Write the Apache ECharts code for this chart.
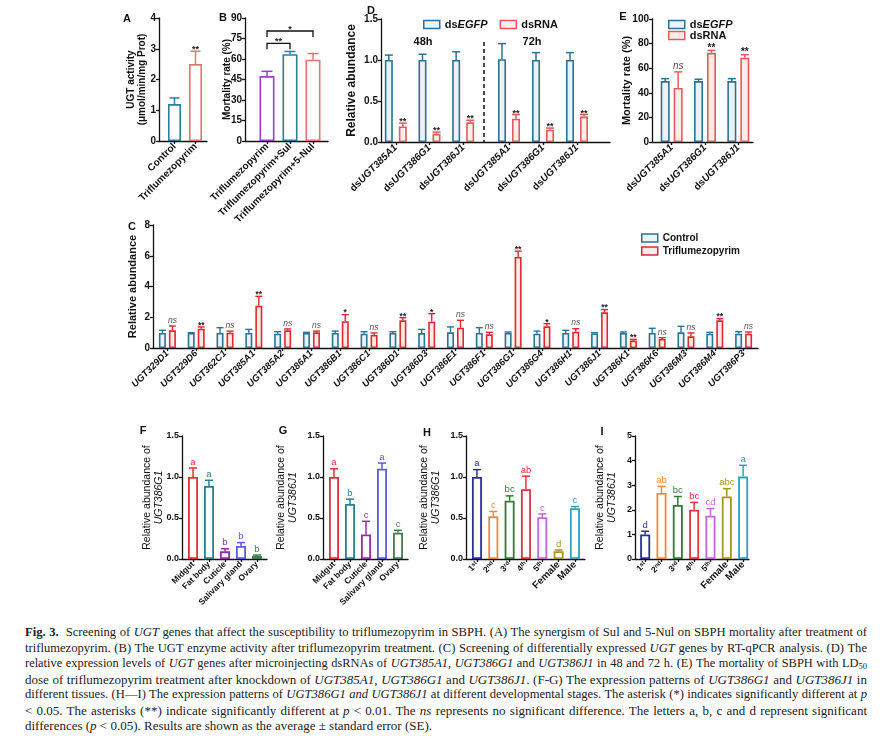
<!DOCTYPE html>
<html><head><meta charset="utf-8">
<script src="https://cdn.jsdelivr.net/npm/echarts@6/dist/echarts.min.js"></script>
<style>
html,body{margin:0;padding:0;background:#fff;}
#chart{position:absolute;left:0;top:0;width:881px;height:620px;}
#cap{position:absolute;left:25px;top:625px;width:842px;font-family:"Liberation Serif","Times New Roman",serif;font-size:13px;line-height:15.5px;color:#222;}
#cap div{text-align:justify;text-align-last:justify;white-space:nowrap;overflow:hidden;}
#cap div.last{text-align-last:left;}
#cap sub{font-size:8.5px;vertical-align:-2px;line-height:0;}
</style></head><body>
<div id="chart"></div>
<div id="cap">
<div><b>Fig. 3.</b>&nbsp; Screening of <i>UGT</i> genes that affect the susceptibility to triflumezopyrim in SBPH. (A) The synergism of Sul and 5-Nul on SBPH mortality after treatment of</div>
<div>triflumezopyrim. (B) The UGT enzyme activity after triflumezopyrim treatment. (C) Screening of differentially expressed <i>UGT</i> genes by RT-qPCR analysis. (D) The</div>
<div>relative expression levels of <i>UGT</i> genes after microinjecting dsRNAs of <i>UGT385A1</i>, <i>UGT386G1</i> and <i>UGT386J1</i> in 48 and 72 h. (E) The mortality of SBPH with LD<sub>50</sub></div>
<div>dose of triflumezopyrim treatment after knockdown of <i>UGT385A1</i>, <i>UGT386G1</i> and <i>UGT386J1</i>. (F-G) The expression patterns of <i>UGT386G1</i> and <i>UGT386J1</i> in</div>
<div>different tissues. (H—I) The expression patterns of <i>UGT386G1 and UGT386J1</i> at different developmental stages. The asterisk (*) indicates significantly different at <i>p</i></div>
<div>&lt; 0.05. The asterisks (**) indicate significantly different at <i>p</i> &lt; 0.01. The <i>ns</i> represents no significant difference. The letters a, b, c and d represent significant</div>
<div class="last">differences (<i>p</i> &lt; 0.05). Results are shown as the average ± standard error (SE).</div>
</div>
<script>
// ---------------- DATA ----------------
// Panel A
const aCats = ['Control', 'Triflumezopyrim'];
const aVals = [1.2, 2.5];
const aErr  = [1.4, 2.92];
const aSig  = ['', '**'];
// Panel B
const bCats = ['Triflumezopyrim', 'Triflumezopyrim+Sul', 'Triflumezopyrim+5-Nul'];
const bVals = [47.5, 63.5, 59.5];
const bErr  = [51, 65.5, 64];
const bBrackets = [[0, 1, 71.5, '**'], [0, 2, 80.5, '*']];
// Panel D
const dCats = ['dsUGT385A1', 'dsUGT386G1', 'dsUGT386J1'];
const d48Egfp = [1.0, 1.0, 1.0];
const d48EgfpErr = [1.06, 1.07, 1.1];
const d48Rna = [0.19, 0.10, 0.24];
const d48RnaErr = [0.23, 0.12, 0.265];
const d72Egfp = [1.01, 1.0, 1.0];
const d72EgfpErr = [1.2, 1.09, 1.09];
const d72Rna = [0.285, 0.15, 0.31];
const d72RnaErr = [0.335, 0.17, 0.335];
const dSig = ['**', '**', '**'];
// Panel E
const eCats = ['dsUGT385A1', 'dsUGT386G1', 'dsUGT386J1'];
const eEgfp = [49.5, 49.5, 49.5];
const eEgfpErr = [51.5, 51, 51.5];
const eRna = [44, 72.5, 68.5];
const eRnaErr = [57, 74.5, 71];
const eSig = ['ns', '**', '**'];
// Panel C
const cCats = ['UGT329D1','UGT329D6','UGT362C1','UGT385A1','UGT385A2','UGT386A1','UGT386B1','UGT386C1','UGT386D1','UGT386D3','UGT386E1','UGT386F1','UGT386G1','UGT386G4','UGT386H1','UGT386J1','UGT386K1','UGT386K6','UGT386M3','UGT386M4','UGT386P3'];
const cControl    = [0.98,0.98,0.98,0.98,0.93,0.98,0.98,0.93,0.98,0.97,1.02,0.98,0.98,0.93,0.98,0.95,0.98,0.98,1.02,0.93,0.93];
const cControlErr = [1.15,1.0,1.32,1.21,1.06,1.02,1.1,1.06,1.06,1.21,1.37,1.32,1.04,1.1,1.15,1.0,1.04,1.28,1.41,1.02,1.06];
const cTri        = [1.15,1.26,1.0,2.75,1.15,1.02,1.74,0.85,1.8,1.71,1.32,0.89,5.92,1.41,1.06,2.32,0.48,0.59,0.76,1.8,0.93];
const cTriErr     = [1.43,1.37,1.1,3.36,1.24,1.1,2.17,0.98,1.97,2.23,1.8,1.02,6.3,1.58,1.26,2.5,0.56,0.67,0.98,1.91,1.04];
const cSig = ['ns','**','ns','**','ns','ns','*','ns','**','*','ns','ns','**','*','ns','**','**','ns','ns','**','ns'];
// Panels F, G (tissues)
const tissueCats = ['Midgut', 'Fat body', 'Cuticle', 'Salivary gland', 'Ovary'];
const fVals = [1.0, 0.89, 0.093, 0.16, 0.036];
const fErr  = [1.11, 0.96, 0.125, 0.2, 0.048];
const fLetters = ['a', 'a', 'b', 'b', 'b'];
const gVals = [1.0, 0.67, 0.30, 1.10, 0.32];
const gErr  = [1.1, 0.73, 0.46, 1.17, 0.35];
const gLetters = ['a', 'b', 'c', 'a', 'c'];
// Panels H, I (stages)
const stageCats = ['1st', '2nd', '3rd', '4th', '5th', 'Female', 'Male'];
const hVals = [1.0, 0.52, 0.71, 0.85, 0.51, 0.094, 0.62];
const hErr  = [1.09, 0.58, 0.77, 1.01, 0.55, 0.11, 0.64];
const hLetters = ['a', 'c', 'bc', 'ab', 'c', 'd', 'c'];
const iVals = [1.0, 2.68, 2.2, 2.0, 1.76, 2.54, 3.35];
const iErr  = [1.13, 2.95, 2.54, 2.3, 2.05, 2.86, 3.81];
const iLetters = ['d', 'ab', 'bc', 'bc', 'cd', 'abc', 'a'];

// ---------------- STYLE ----------------
const FONT = '"Liberation Sans", Arial, Helvetica, sans-serif';
const AX = '#111';
const BLUE = '#2B7391', BLUE_F = '#EAF3F7';
const RED = '#E25B5B', RED_F = '#FCEDED';
const CRED = '#E0282E', CRED_F = '#FDEBEB';
const aColors = ['#2B7F9E', '#E57373'];
const bColors = ['#9B3FCB', '#2B7F9E', '#E57373'];
const tissueColors = ['#E0303A', '#2A7F8F', '#9030A0', '#5B5BD6', '#3F7A50'];
const stageColors = ['#2B2FA0', '#F08A3A', '#2E7D32', '#D9363E', '#C266D6', '#A8961E', '#2FA3B5'];

const grid = [], xAxis = [], yAxis = [], series = [], legend = [], graphic = [];
const fmt1 = v => v.toFixed(1);

function addGrid(l, t, w, h) {
  grid.push({left: l, top: t, width: w, height: h, containLabel: false, outerBoundsMode: 'none'});
  return grid.length - 1;
}
function frame(l, t, w, h, y) {
  const g = addGrid(l, t, w, h);
  xAxis.push({gridIndex: g, type: 'category', data: [''],
    axisLine: {show: true, lineStyle: {color: AX, width: 1.3}},
    axisTick: {show: false}, axisLabel: {show: false}, splitLine: {show: false}});
  yAxis.push({gridIndex: g, type: 'value', min: y.min, max: y.max, interval: y.interval,
    axisLine: {show: true, lineStyle: {color: AX, width: 1.3}},
    axisTick: {show: true, length: 3, lineStyle: {color: AX, width: 1.3}},
    axisLabel: {show: true, margin: 3, fontSize: y.fs || 10, fontWeight: 'bold', color: '#111', fontFamily: FONT, formatter: y.fmt},
    splitLine: {show: false},
    name: y.name, nameLocation: 'middle', nameGap: y.gap, nameRotate: 90, nameMoveOverlap: false,
    nameTextStyle: Object.assign({fontSize: 10, fontWeight: 'bold', color: '#111', fontFamily: FONT}, y.nameStyle || {})});
  return g;
}
function dataGrid(l, t, w, h, y, cats, lab) {
  const g = addGrid(l, t, w, h);
  xAxis.push({gridIndex: g, type: 'category', data: cats,
    axisLine: {show: false},
    axisTick: {show: true, alignWithLabel: true, interval: 0, length: 3, lineStyle: {color: AX, width: 1.3}},
    axisLabel: Object.assign({interval: 0, rotate: 45, margin: 4, fontSize: 10, fontWeight: 'bold', color: '#111', fontFamily: FONT}, lab || {}),
    splitLine: {show: false}});
  yAxis.push({gridIndex: g, type: 'value', min: y.min, max: y.max, show: false});
  return g;
}
const pick = (c, i) => Array.isArray(c) ? c[i] : c;
function bars(g, name, vals, fill, stroke, bw, gap, bwid) {
  return {type: 'bar', name: name, xAxisIndex: g, yAxisIndex: g, barWidth: bw, barGap: gap || '30%', z: 2, silent: true,
    data: vals.map((v, i) => ({value: v, itemStyle: {color: pick(fill, i), borderColor: pick(stroke, i), borderWidth: bwid || 1.6}}))};
}
function errBars(g, vals, errs, o) {
  return {type: 'custom', xAxisIndex: g, yAxisIndex: g, z: 5, silent: true, clip: false,
    data: vals.map((v, i) => [i, v, errs[i]]),
    renderItem: function (params, api) {
      const i = params.dataIndex;
      const p0 = api.coord([api.value(0), api.value(1)]);
      const p1 = api.coord([api.value(0), api.value(2)]);
      const x = p0[0] + (o.offset || 0);
      const col = pick(o.color, i);
      const lw = o.lw || 1.5;
      const ch = [
        {type: 'line', shape: {x1: x, y1: p0[1], x2: x, y2: p1[1]}, style: {stroke: col, lineWidth: lw}},
        {type: 'line', shape: {x1: x - o.capW, y1: p1[1], x2: x + o.capW, y2: p1[1]}, style: {stroke: col, lineWidth: lw}}
      ];
      const lab = o.labels ? o.labels[i] : '';
      if (lab) {
        const ls = o.labelStyle(lab, col);
        ch.push({type: 'text', x: x, y: p1[1] - 1 + (ls.dy || 0),
          style: Object.assign({text: lab, align: 'center', verticalAlign: 'bottom', fontFamily: FONT}, ls.style)});
      }
      return {type: 'group', children: ch};
    }};
}
function sigStyle(fs) {
  return lab => lab === 'ns'
    ? {style: {fontSize: fs, fontStyle: 'italic', fill: '#555'}, dy: 0}
    : {style: {fontSize: fs, fontWeight: 'bold', fill: '#222'}, dy: 4};
}
const letterStyle = (lab, col) => ({style: {fontSize: 9.5, fill: col}, dy: 0});
function panelLetter(t, x, y) {
  graphic.push({type: 'text', id: 'L' + t, x: x, y: y, style: {text: t, fontSize: 11, fontWeight: 'bold', fill: '#111', fontFamily: FONT, align: 'center', verticalAlign: 'middle'}});
}

const dsFmt = v => v.replace(/^ds(.*)$/, '{n|ds}{i|$1}');
const dsRich = {n: {fontSize: 10, fontWeight: 'bold', color: '#111', fontFamily: FONT}, i: {fontSize: 10, fontWeight: 'bold', fontStyle: 'italic', color: '#111', fontFamily: FONT}};
const stageFmt = v => v.replace(/^(\d)(st|nd|rd|th)$/, '{n|$1}{s|$2}');
const stageRich = {n: {fontSize: 8.5, fontWeight: 'bold', color: '#111', fontFamily: FONT}, s: {fontSize: 6, fontWeight: 'bold', color: '#111', fontFamily: FONT, verticalAlign: 'top'}};
const relRich = () => ({rich: {n: {fontSize: 10.5, fontWeight: 'normal', color: '#111', fontFamily: FONT, lineHeight: 12}, i: {fontSize: 10.5, fontStyle: 'italic', fontWeight: 'normal', color: '#111', fontFamily: FONT, lineHeight: 12}}});
const dsLegendText = {rich: {n: {fontSize: 11, fontWeight: 'bold', color: '#111', fontFamily: FONT}, i: {fontSize: 11, fontWeight: 'bold', fontStyle: 'italic', color: '#111', fontFamily: FONT}}};
const dsLegendFmt = n => n === 'dsEGFP' ? '{n|ds}{i|EGFP}' : '{n|' + n + '}';
const dsLegendData = () => [{name: 'dsEGFP', itemStyle: {color: BLUE_F, borderColor: BLUE, borderWidth: 1.5}}, {name: 'dsRNA', itemStyle: {color: RED_F, borderColor: RED, borderWidth: 1.5}}];

// ---------------- PANEL A ----------------
frame(159, 18, 48, 123, {min: 0, max: 4, interval: 1, name: 'UGT activity\n(μmol/min/mg Prot)', gap: 11, nameStyle: {lineHeight: 11}});
const gA = dataGrid(164, 18, 42, 123, {min: 0, max: 4}, aCats, {});
series.push(bars(gA, 'UGT activity', aVals, '#fff', aColors, 13));
series.push(errBars(gA, aVals, aErr, {color: aColors, capW: 5, labels: aSig, labelStyle: sigStyle(9)}));
panelLetter('A', 127, 19);

// ---------------- PANEL B ----------------
frame(245, 18, 83, 123, {min: 0, max: 90, interval: 15, name: 'Mortality rate (%)', gap: 13});
const gB = dataGrid(255.5, 18, 69, 123, {min: 0, max: 90}, bCats, {});
series.push(bars(gB, 'Mortality rate', bVals, '#fff', bColors, 15));
series.push(errBars(gB, bVals, bErr, {color: bColors, capW: 5.5}));
series.push({type: 'custom', xAxisIndex: gB, yAxisIndex: gB, z: 6, silent: true, clip: false,
  data: bBrackets.map(b => [b[0], b[2], b[1]]),
  renderItem: function (params, api) {
    const a = api.coord([api.value(0), api.value(1)]);
    const b = api.coord([api.value(2), api.value(1)]);
    const leg = 6;
    return {type: 'group', children: [
      {type: 'polyline', shape: {points: [[a[0], a[1] + leg], [a[0], a[1]], [b[0], a[1]], [b[0], a[1] + leg]]}, style: {stroke: '#111', lineWidth: 1.3, fill: 'none'}},
      {type: 'text', x: (a[0] + b[0]) / 2, y: a[1] + 3, style: {text: bBrackets[params.dataIndex][3], align: 'center', verticalAlign: 'bottom', fontSize: 9, fontWeight: 'bold', fill: '#222', fontFamily: FONT}}
    ]};
  }});
panelLetter('B', 223, 18);

// ---------------- PANEL D ----------------
const dFrame = frame(381, 19, 229, 123, {min: 0, max: 1.5, interval: 0.5, fmt: fmt1, name: 'Relative abundance', gap: 23, nameStyle: {fontSize: 12}});
const dLab = {formatter: dsFmt, rich: dsRich};
const gD48 = dataGrid(379, 19, 101, 123, {min: 0, max: 1.5}, dCats, dLab);
const gD72 = dataGrid(492, 19, 102, 123, {min: 0, max: 1.5}, dCats, dLab);
[[gD48, d48Egfp, d48EgfpErr, d48Rna, d48RnaErr], [gD72, d72Egfp, d72EgfpErr, d72Rna, d72RnaErr]].forEach(s => {
  series.push(bars(s[0], 'dsEGFP', s[1], BLUE_F, BLUE, 8, '75%'));
  series.push(bars(s[0], 'dsRNA', s[3], RED_F, RED, 8, '75%'));
  series.push(errBars(s[0], s[1], s[2], {color: BLUE, capW: 4, offset: -7}));
  series.push(errBars(s[0], s[3], s[4], {color: RED, capW: 4, offset: 7, labels: dSig, labelStyle: sigStyle(9)}));
});
legend.push({left: 418, top: 14, orient: 'horizontal', icon: 'rect', itemWidth: 16, itemHeight: 8, itemGap: 12, selectedMode: false,
  formatter: dsLegendFmt, textStyle: dsLegendText, data: dsLegendData()});
graphic.push({type: 'text', id: 't48', x: 423, y: 42, style: {text: '48h', fontSize: 11, fontWeight: 'bold', fill: '#111', fontFamily: FONT, align: 'center', verticalAlign: 'middle'}});
graphic.push({type: 'text', id: 't72', x: 532, y: 42, style: {text: '72h', fontSize: 11, fontWeight: 'bold', fill: '#111', fontFamily: FONT, align: 'center', verticalAlign: 'middle'}});
panelLetter('D', 371, 11);

// ---------------- PANEL E ----------------
frame(652, 19, 101, 123, {min: 0, max: 100, interval: 20, name: 'Mortality rate (%)', gap: 20, nameStyle: {fontSize: 11}});
const gE = dataGrid(655, 19, 100, 123, {min: 0, max: 100}, eCats, dLab);
series.push(bars(gE, 'dsEGFP', eEgfp, BLUE_F, BLUE, 9, '44%'));
series.push(bars(gE, 'dsRNA', eRna, RED_F, RED, 9, '44%'));
series.push(errBars(gE, eEgfp, eEgfpErr, {color: BLUE, capW: 4, offset: -6.5}));
series.push(errBars(gE, eRna, eRnaErr, {color: RED, capW: 4, offset: 6.5, labels: eSig, labelStyle: sigStyle(10)}));
legend.push({left: 663, top: 14, orient: 'vertical', icon: 'rect', itemWidth: 16, itemHeight: 8, itemGap: 0, selectedMode: false,
  formatter: dsLegendFmt, textStyle: dsLegendText, data: dsLegendData()});
panelLetter('E', 623, 17);

// ---------------- PANEL C ----------------
frame(153, 225, 605, 123, {min: 0, max: 8, interval: 2, name: 'Relative abundance', gap: 15, nameStyle: {fontSize: 11}});
const gC = dataGrid(153, 225, 605, 123, {min: 0, max: 8}, cCats, {fontSize: 9.5, fontStyle: 'italic'});
series.push(bars(gC, 'Control', cControl, BLUE_F, BLUE, 7, '43%'));
series.push(bars(gC, 'Triflumezopyrim', cTri, CRED_F, CRED, 7, '43%'));
series.push(errBars(gC, cControl, cControlErr, {color: BLUE, capW: 3.5, offset: -5, lw: 1.4}));
series.push(errBars(gC, cTri, cTriErr, {color: CRED, capW: 3.5, offset: 5, lw: 1.4, labels: cSig, labelStyle: sigStyle(8.5)}));
legend.push({left: 636, top: 228, orient: 'vertical', icon: 'rect', itemWidth: 16, itemHeight: 8, itemGap: 3, selectedMode: false,
  textStyle: {fontSize: 10, fontWeight: 'bold', color: '#111', fontFamily: FONT},
  data: [{name: 'Control', itemStyle: {color: BLUE_F, borderColor: BLUE, borderWidth: 1.5}}, {name: 'Triflumezopyrim', itemStyle: {color: CRED_F, borderColor: CRED, borderWidth: 1.5}}]});
panelLetter('C', 132, 227);

// ---------------- PANELS F, G, H, I ----------------
const smallLab = {fontSize: 8.5};
frame(182, 436, 85, 123, {min: 0, max: 1.5, interval: 0.5, fmt: fmt1, fs: 9, name: '{n|Relative abundance of}\n{i|UGT386G1}', gap: 17, nameStyle: relRich()});
const gF = dataGrid(185, 436, 80, 123, {min: 0, max: 1.5}, tissueCats, smallLab);
series.push(bars(gF, 'UGT386G1 tissues', fVals, '#fff', tissueColors, 10, '30%', 1.8));
series.push(errBars(gF, fVals, fErr, {color: tissueColors, capW: 4, labels: fLetters, labelStyle: letterStyle}));
panelLetter('F', 143, 431);

frame(323, 436, 85, 123, {min: 0, max: 1.5, interval: 0.5, fmt: fmt1, fs: 9, name: '{n|Relative abundance of}\n{i|UGT386J1}', gap: 24, nameStyle: relRich()});
const gG = dataGrid(326, 436, 80, 123, {min: 0, max: 1.5}, tissueCats, smallLab);
series.push(bars(gG, 'UGT386J1 tissues', gVals, '#fff', tissueColors, 10, '30%', 1.8));
series.push(errBars(gG, gVals, gErr, {color: tissueColors, capW: 4, labels: gLetters, labelStyle: letterStyle}));
panelLetter('G', 283, 431);

const stageLab = {formatter: stageFmt, rich: stageRich};
frame(466, 436, 119, 123, {min: 0, max: 1.5, interval: 0.5, fmt: fmt1, fs: 9, name: '{n|Relative abundance of}\n{i|UGT386G1}', gap: 24, nameStyle: relRich()});
const gH = dataGrid(468.8, 436, 114.3, 123, {min: 0, max: 1.5}, stageCats, stageLab);
series.push(bars(gH, 'UGT386G1 stages', hVals, '#fff', stageColors, 10, '30%', 1.8));
series.push(errBars(gH, hVals, hErr, {color: stageColors, capW: 4, labels: hLetters, labelStyle: letterStyle}));
panelLetter('H', 427, 433);

frame(635, 436, 114, 123, {min: 0, max: 5, interval: 1, fs: 9, name: '{n|Relative abundance of}\n{i|UGT386J1}', gap: 17, nameStyle: relRich()});
const gI = dataGrid(637, 436, 114.3, 123, {min: 0, max: 5}, stageCats, stageLab);
series.push(bars(gI, 'UGT386J1 stages', iVals, '#fff', stageColors, 10, '30%', 1.8));
series.push(errBars(gI, iVals, iErr, {color: stageColors, capW: 4, labels: iLetters, labelStyle: letterStyle}));
panelLetter('I', 602, 432);

// ---------------- RENDER ----------------
const chart = echarts.init(document.getElementById('chart'), null, {renderer: 'canvas'});
chart.setOption({
  animation: false,
  backgroundColor: '#fff',
  textStyle: {fontFamily: FONT},
  grid: grid, xAxis: xAxis, yAxis: yAxis, series: series, legend: legend, graphic: graphic
});
// dashed separator between the 48h and 72h groups in panel D
const sepX = 484;
const sepTop = chart.convertToPixel({yAxisIndex: dFrame}, 1.22);
const sepBot = chart.convertToPixel({yAxisIndex: dFrame}, 0);
chart.setOption({graphic: [{type: 'line', id: 'dsep', shape: {x1: sepX, y1: sepTop, x2: sepX, y2: sepBot}, style: {stroke: '#111', lineWidth: 1.5, lineDash: [4, 3]}}]});

// shrink any caption line that would not fit its justified width
document.querySelectorAll('#cap div').forEach(function (d) {
  let fs = 13;
  while (d.scrollWidth > d.clientWidth + 0.5 && fs > 10) {
    fs -= 0.2;
    d.style.fontSize = fs + 'px';
  }
});
</script>
</body></html>
